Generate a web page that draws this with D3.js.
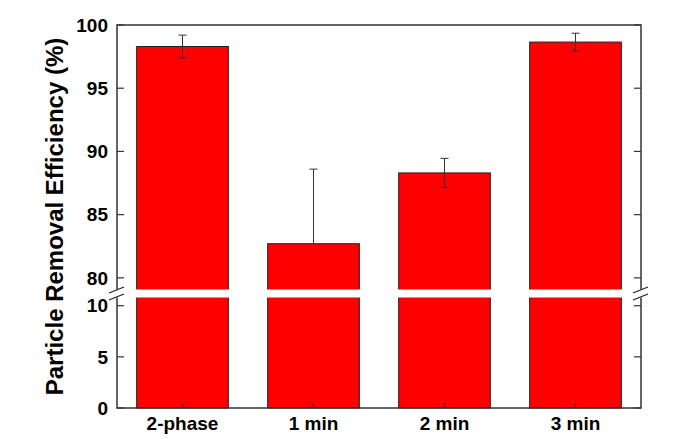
<!DOCTYPE html>
<html>
<head>
<meta charset="utf-8">
<script src="https://cdn.jsdelivr.net/npm/d3@7"></script>
<style>
  body { margin: 0; background: #fff; }
  svg { display: block; font-family: "Liberation Sans", Arial, sans-serif; }
</style>
</head>
<body>
<div class="chart"></div>
<script>
// Chart data
const categories = ["2-phase", "1 min", "2 min", "3 min"];
const efficiency = [98.3, 82.7, 88.3, 98.65];
const errUp = [0.9, 5.9, 1.15, 0.7];
const errDown = [0.9, 5.9, 1.15, 0.7];
const topTicks = [80, 85, 90, 95, 100];
const bottomTicks = [0, 5, 10];

const W = 677, H = 439;
const Plot = {left: 117, right: 641, top: 25, bottom: 408};
const breakTop = 290.5, breakBottom = 296.5;

const svg = d3.select(".chart").append("svg")
    .attr("width", W)
    .attr("height", H);

// x band scale
const x = d3.scaleBand().domain(categories).range([Plot.left, Plot.right])
    .paddingInner(0.3).paddingOuter(0.15);

// two y segments for the broken axis
const yTop = d3.scaleLinear().domain([79, 100]).range([breakTop, Plot.top]);
const yBot = d3.scaleLinear().domain([0, 10.9]).range([Plot.bottom, breakBottom]);

const data = categories.map((c, i) => ({c, v: efficiency[i], up: errUp[i], down: errDown[i]}));

// bars, lower part
svg.append("g").selectAll("rect").data(data).join("rect")
    .attr("x", d => x(d.c))
    .attr("width", x.bandwidth())
    .attr("y", d => yBot(Math.min(d.v, yBot.domain()[1])))
    .attr("height", d => yBot(0) - yBot(Math.min(d.v, yBot.domain()[1])))
    .attr("fill", "#ff0000")
    .attr("stroke", "#222")
    .attr("stroke-width", 1);

// bars, upper part
svg.append("g").selectAll("rect").data(data.filter(d => d.v > yTop.domain()[0])).join("rect")
    .attr("x", d => x(d.c))
    .attr("width", x.bandwidth())
    .attr("y", d => yTop(d.v))
    .attr("height", d => yTop(yTop.domain()[0]) - yTop(d.v))
    .attr("fill", "#ff0000")
    .attr("stroke", "#222")
    .attr("stroke-width", 1);

// error bars (upper segment)
const eb = svg.append("g").attr("stroke", "#333").attr("stroke-width", 1).attr("fill", "none");
data.forEach(d => {
    const cx = x(d.c) + x.bandwidth() / 2;
    const hi = d.v + d.up, lo = d.v - d.down;
    eb.append("line").attr("x1", cx).attr("x2", cx).attr("y1", yTop(hi)).attr("y2", yTop(d.v));
    eb.append("line").attr("x1", cx - 4).attr("x2", cx + 4).attr("y1", yTop(hi)).attr("y2", yTop(hi));
    if (lo >= yTop.domain()[0]) {
        eb.append("line").attr("x1", cx).attr("x2", cx).attr("y1", yTop(d.v)).attr("y2", yTop(lo));
        eb.append("line").attr("x1", cx - 4).attr("x2", cx + 4).attr("y1", yTop(lo)).attr("y2", yTop(lo));
    }
});

// frame
svg.append("rect")
    .attr("x", Plot.left).attr("y", Plot.top)
    .attr("width", Plot.right - Plot.left).attr("height", Plot.bottom - Plot.top)
    .attr("fill", "none").attr("stroke", "#333").attr("stroke-width", 1.5);

// ticks, inward
const tk = svg.append("g").attr("stroke", "#333").attr("stroke-width", 1.2);
topTicks.forEach(t => {
    tk.append("line").attr("x1", Plot.left).attr("x2", Plot.left + 7).attr("y1", yTop(t)).attr("y2", yTop(t));
    tk.append("line").attr("x1", Plot.right).attr("x2", Plot.right - 7).attr("y1", yTop(t)).attr("y2", yTop(t));
});
bottomTicks.forEach(t => {
    tk.append("line").attr("x1", Plot.left).attr("x2", Plot.left + 7).attr("y1", yBot(t)).attr("y2", yBot(t));
    tk.append("line").attr("x1", Plot.right).attr("x2", Plot.right - 7).attr("y1", yBot(t)).attr("y2", yBot(t));
});
categories.forEach(c => {
    const cx = x(c) + x.bandwidth() / 2;
    tk.append("line").attr("x1", cx).attr("x2", cx).attr("y1", Plot.bottom).attr("y2", Plot.bottom - 5);
});

// break gap (hides bar edges and axis lines)
svg.append("rect")
    .attr("x", Plot.left - 2).attr("y", breakTop - 1)
    .attr("width", Plot.right - Plot.left + 4).attr("height", breakBottom - breakTop + 2)
    .attr("fill", "#fff");

// break marks
const bm = svg.append("g").attr("stroke", "#222").attr("stroke-width", 1.3);
[Plot.left, Plot.right].forEach(ax => {
    [breakTop - 0.5, breakBottom + 0.5].forEach(by => {
        bm.append("line")
            .attr("x1", ax - 8).attr("y1", by + 3)
            .attr("x2", ax + 7).attr("y2", by - 3);
    });
});

// tick labels
const lab = svg.append("g")
    .attr("font-size", 19).attr("font-weight", "bold").attr("fill", "#000")
    .attr("text-anchor", "end");
topTicks.forEach(t => {
    lab.append("text").attr("x", 108).attr("y", yTop(t)).attr("dy", "0.35em").text(t);
});
bottomTicks.forEach(t => {
    lab.append("text").attr("x", 108).attr("y", yBot(t)).attr("dy", "0.35em").text(t);
});

// category labels
svg.append("g").selectAll("text").data(categories).join("text")
    .attr("x", d => x(d) + x.bandwidth() / 2)
    .attr("y", 430)
    .attr("text-anchor", "middle")
    .attr("font-size", 19).attr("font-weight", "bold")
    .text(d => d);

// y axis title
svg.append("text")
    .attr("transform", "translate(63," + ((Plot.top + Plot.bottom) / 2) + ") rotate(-90)")
    .attr("text-anchor", "middle")
    .attr("font-size", 24).attr("font-weight", "bold")
    .text("Particle Removal Efficiency (%)");
</script>
</body>
</html>
